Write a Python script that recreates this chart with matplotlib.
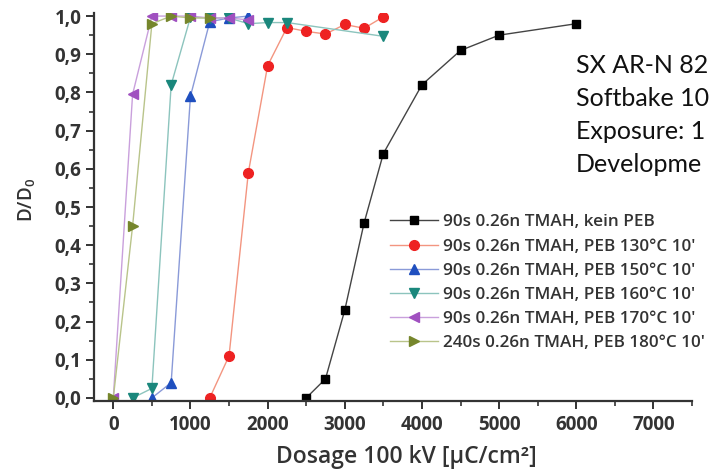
import numpy as np
import matplotlib.pyplot as plt
from matplotlib.ticker import MultipleLocator, FuncFormatter

# Dose (µC/cm²) vs normalised thickness D/D0
dose_no_peb = [2500, 2750, 3000, 3250, 3500, 4000, 4500, 5000, 6000]
d_no_peb = [0.0, 0.05, 0.23, 0.458, 0.64, 0.82, 0.91, 0.95, 0.98]

dose_130 = [1250, 1500, 1750, 2000, 2250, 2500, 2750, 3000, 3250, 3500]
d_130 = [0.0, 0.11, 0.59, 0.87, 0.97, 0.96, 0.953, 0.978, 0.968, 0.998]

dose_150 = [500, 750, 1000, 1250, 1500, 1750]
d_150 = [0.0, 0.04, 0.79, 0.985, 0.995, 1.0]

dose_160 = [250, 500, 750, 1000, 1250, 1500, 1750, 2000, 2250, 3500]
d_160 = [0.0, 0.025, 0.82, 0.997, 0.995, 0.995, 0.98, 0.983, 0.983, 0.947]

dose_170 = [0, 250, 500, 750, 1000, 1250, 1500, 1750]
d_170 = [0.0, 0.795, 1.0, 1.0, 1.0, 0.995, 0.995, 0.99]

dose_180 = [0, 250, 500, 750, 1000, 1250]
d_180 = [0.0, 0.45, 0.98, 1.0, 0.995, 0.995]

labels = [
    "90s 0.26n TMAH, kein PEB",
    "90s 0.26n TMAH, PEB 130°C 10'",
    "90s 0.26n TMAH, PEB 150°C 10'",
    "90s 0.26n TMAH, PEB 160°C 10'",
    "90s 0.26n TMAH, PEB 170°C 10'",
    "240s 0.26n TMAH, PEB 180°C 10'",
]
info_lines = ["SX AR-N 82", "Softbake 10", "Exposure: 1", "Developme"]

plt.rcParams["font.family"] = ["Open Sans", "DejaVu Sans"]
text_col = "#333333"

fig = plt.figure(figsize=(7.09, 4.75), dpi=100)
ax = fig.add_axes([0.1326, 0.1558, 0.8434, 0.8168])

series = [
    (dose_no_peb, d_no_peb, "s", "#000000", "#444444", 6),
    (dose_130, d_130, "o", "#ee2222", "#f39580", 7),
    (dose_150, d_150, "^", "#1f4fbf", "#8a9ad8", 7),
    (dose_160, d_160, "v", "#1a877c", "#8cc4bd", 7),
    (dose_170, d_170, "<", "#a050c0", "#c9a0dc", 7),
    (dose_180, d_180, ">", "#76862c", "#b9c48a", 7),
]
for (x, y, m, dark, light, ms), lab in zip(series, labels):
    ax.plot(x, y, marker=m, color=light, lw=1.0, ms=ms,
            mfc=dark, mec=dark, label=lab)

ax.set_xlim(-250, 7500)
ax.set_ylim(-0.008, 1.008)
ax.xaxis.set_major_locator(MultipleLocator(1000))
ax.xaxis.set_minor_locator(MultipleLocator(500))
ax.yaxis.set_major_locator(MultipleLocator(0.1))
ax.yaxis.set_minor_locator(MultipleLocator(0.05))
ax.yaxis.set_major_formatter(FuncFormatter(lambda v, p: f"{v:.1f}".replace(".", ",")))

for s in ["top", "right"]:
    ax.spines[s].set_visible(False)
for s in ["left", "bottom"]:
    ax.spines[s].set_linewidth(1.6)
    ax.spines[s].set_color("#333333")
ax.tick_params(which="major", direction="out", length=6, width=1.4,
               color="#333333", labelsize=13.5, labelcolor=text_col)
ax.tick_params(axis="x", which="major", pad=4)
ax.tick_params(axis="y", which="major", pad=3)
ax.tick_params(which="minor", direction="out", length=3.5, width=1.2,
               color="#333333")
for t in ax.get_xticklabels() + ax.get_yticklabels():
    t.set_fontweight("bold")

ax.set_xlabel("Dosage 100 kV [µC/cm²]", fontsize=16.5, fontweight="semibold",
              color=text_col, va="center")
ax.xaxis.set_label_coords(0.522, -0.144)
ax.set_ylabel("D/D$_\\mathregular{0}$", fontsize=13.5, fontweight="semibold",
              color=text_col, va="center")
ax.yaxis.set_label_coords(-0.112, 0.518)

leg = ax.legend(loc="upper left", bbox_to_anchor=(0.495, 0.481), frameon=False,
                fontsize=12.3, handlelength=2.8, handletextpad=0.29,
                labelspacing=0.48, borderaxespad=0, borderpad=0)
for t in leg.get_texts():
    t.set_fontweight("semibold")
    t.set_color(text_col)

fig.text(0.812, 1 - 54 / 475, "\n".join(info_lines), fontsize=18,
         family=["Lato", "DejaVu Sans"], color="#111111", va="top",
         linespacing=1.53, transform=fig.transFigure)

fig.savefig("out.png", dpi=100)
